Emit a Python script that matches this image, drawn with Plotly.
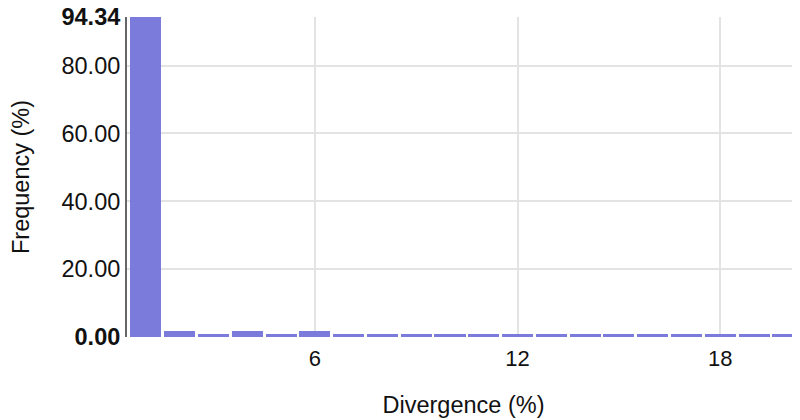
import plotly.graph_objects as go

divergence = list(range(1, 21))
frequency = [94.34, 1.9, 0.8, 1.9, 0.8, 1.9, 0.8, 0.8, 0.8, 0.8,
             0.8, 0.8, 0.8, 0.8, 0.8, 0.8, 0.8, 0.8, 0.8, 0.8]
y_tick_vals = [0, 20, 40, 60, 80, 94.34]
y_tick_text = ["<b>0.00</b>", "20.00", "40.00", "60.00", "80.00", "<b>94.34</b>"]
x_tick_vals = [6, 12, 18]

fig = go.Figure(go.Bar(
    x=divergence, y=frequency,
    marker=dict(color="#7b7bdc", line=dict(width=0)),
    width=0.92,
))
fig.update_layout(
    width=800, height=420,
    margin=dict(l=119, r=8, t=9, b=90.5, autoexpand=False),
    paper_bgcolor="white", plot_bgcolor="white",
    font=dict(family="Liberation Sans, Arial, sans-serif", size=22, color="#111"),
    showlegend=False,
    bargap=0,
)
fig.update_xaxes(
    range=[0.44, 20.36], tickvals=x_tick_vals, ticks="",
    tickfont=dict(size=22), ticklabelstandoff=6,
    showgrid=True, gridcolor="#e3e3e3", gridwidth=1.5,
    zeroline=False, showline=False, automargin=False,
    title=dict(text="Divergence (%)", font=dict(size=23.5), standoff=26),
)
fig.update_yaxes(
    range=[0, 94.34], tickvals=y_tick_vals, ticktext=y_tick_text, ticks="",
    tickfont=dict(size=23.5), ticklabeloverflow="allow",
    showgrid=True, gridcolor="#e3e3e3", gridwidth=1.5,
    zeroline=False, showline=True, linecolor="#666", linewidth=2,
    automargin=False,
    title=dict(text="Frequency (%)", font=dict(size=23.5), standoff=33),
)
fig.write_html("out.html")
